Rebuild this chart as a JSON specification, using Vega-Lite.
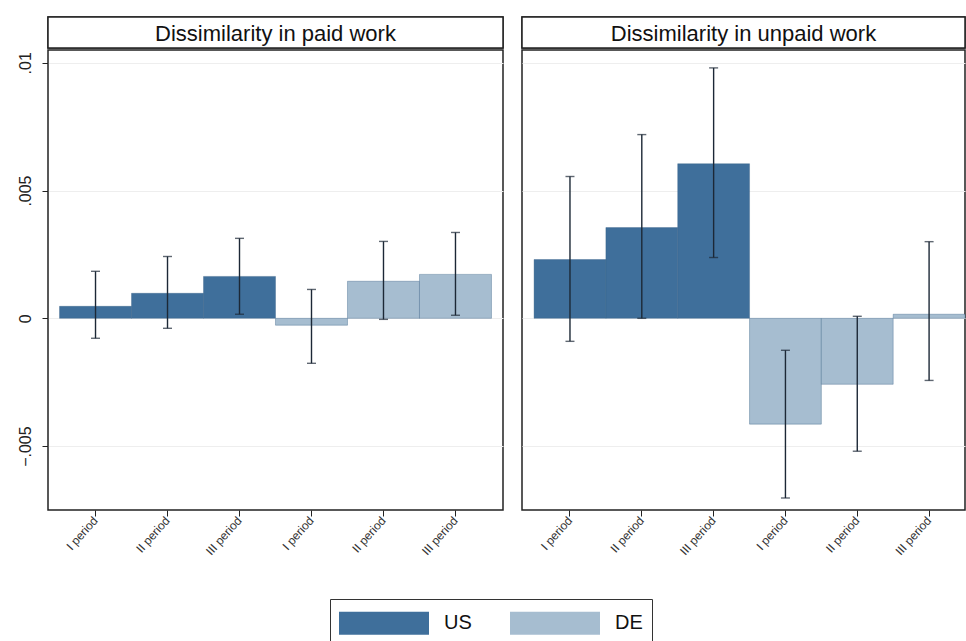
{
  "$schema": "https://vega.github.io/schema/vega-lite/v6.json",
  "background": "white",
  "padding": {"left": 16, "top": 15, "right": 0, "bottom": 0},
  "spacing": 15,
  "config": {
    "font": "Liberation Sans",
    "view": {"stroke": "#222222", "strokeWidth": 1.5},
    "concat": {"spacing": 19}
  },
  "datasets": {
    "bars": [
      {"panel": "paid", "bar": "US|I period", "country": "US", "value": 0.00047, "lo": -0.00078, "hi": 0.00184},
      {"panel": "paid", "bar": "US|II period", "country": "US", "value": 0.00098, "lo": -0.00039, "hi": 0.00242},
      {"panel": "paid", "bar": "US|III period", "country": "US", "value": 0.00164, "lo": 0.00016, "hi": 0.00313},
      {"panel": "paid", "bar": "DE|I period", "country": "DE", "value": -0.00027, "lo": -0.00176, "hi": 0.00113},
      {"panel": "paid", "bar": "DE|II period", "country": "DE", "value": 0.00145, "lo": -0.00004, "hi": 0.00301},
      {"panel": "paid", "bar": "DE|III period", "country": "DE", "value": 0.00172, "lo": 0.00012, "hi": 0.00336},
      {"panel": "unpaid", "bar": "US|I period", "country": "US", "value": 0.0023, "lo": -0.0009, "hi": 0.00555},
      {"panel": "unpaid", "bar": "US|II period", "country": "US", "value": 0.00355, "lo": 0.0, "hi": 0.00719},
      {"panel": "unpaid", "bar": "US|III period", "country": "US", "value": 0.00605, "lo": 0.00238, "hi": 0.0098},
      {"panel": "unpaid", "bar": "DE|I period", "country": "DE", "value": -0.00414, "lo": -0.00703, "hi": -0.00125},
      {"panel": "unpaid", "bar": "DE|II period", "country": "DE", "value": -0.00258, "lo": -0.0052, "hi": 0.00008},
      {"panel": "unpaid", "bar": "DE|III period", "country": "DE", "value": 0.00016, "lo": -0.00243, "hi": 0.003}
    ]
  },
  "resolve": {"scale": {"color": "shared"}, "legend": {"color": "shared"}},
  "hconcat": [
    {
      "spacing": -2,
      "vconcat": [
        {
          "width": 455,
          "height": 31,
          "view": {"stroke": "#222222", "strokeWidth": 1.5},
          "data": {"values": [{"title": "Dissimilarity in paid work"}]},
          "layer": [
            {"mark": {"type": "rect", "fill": "white", "stroke": "#222222", "strokeWidth": 1.5}, "encoding": {}},
            {
              "mark": {"type": "text", "fontSize": 22, "color": "#111111", "dy": 1},
              "encoding": {"text": {"field": "title"}}
            }
          ]
        },
        {
          "width": 455,
          "height": 460,
          "data": {"name": "bars"},
          "transform": [{"filter": "datum.panel == 'paid'"}],
          "encoding": {
            "x": {
              "field": "bar",
              "type": "nominal",
              "sort": ["US|I period", "US|II period", "US|III period", "DE|I period", "DE|II period", "DE|III period"],
              "scale": {"paddingInner": 0, "paddingOuter": 0.16},
              "title": null,
              "axis": {
                "labelExpr": "split(datum.value, '|')[1]",
                "labelAngle": -48,
                "labelFontSize": 12,
                "labelColor": "#333333",
                "tickColor": "#222222",
                "tickSize": 6,
                "domain": false,
                "grid": false
              }
            }
          },
          "layer": [
            {
              "mark": {"type": "bar", "stroke": "#2f5a80", "strokeWidth": 0.6, "strokeOpacity": 0.6},
              "encoding": {
                "y": {
                  "field": "value",
                  "type": "quantitative",
                  "scale": {"domain": [-0.0075, 0.0105], "nice": false},
                  "title": null,
                  "axis": {
                    "values": [-0.005, 0, 0.005, 0.01],
                    "format": ".3~f",
                    "labelExpr": "replace(datum.label, '0.', '.')",
                    "labelAngle": -90,
                    "labelFontSize": 16,
                    "labelPadding": 9,
                    "labelColor": "#222222",
                    "tickColor": "#222222",
                    "tickSize": 6,
                    "domain": false,
                    "gridColor": "#eeeeee"
                  }
                },
                "color": {
                  "field": "country",
                  "type": "nominal",
                  "scale": {"domain": ["US", "DE"], "range": ["#3f6f9b", "#a6bdd0"]},
                  "legend": {
                    "title": null,
                    "orient": "none",
                    "direction": "horizontal",
                    "legendX": 282,
                    "legendY": 582,
                    "columns": 2,
                    "symbolType": "M-1,-0.77H5V0.77H-1Z",
                    "symbolSize": 900,
                    "symbolStrokeWidth": 0,
                    "symbolOpacity": 1,
                    "labelFontSize": 20,
                    "labelColor": "#111111",
                    "labelOffset": 75,
                    "columnPadding": 38,
                    "padding": 9,
                    "strokeColor": "#333333",
                    "fillColor": "white"
                  }
                }
              }
            },
            {
              "mark": {"type": "rule", "color": "#1c2836", "strokeWidth": 1.4},
              "encoding": {"y": {"field": "lo", "type": "quantitative"}, "y2": {"field": "hi"}}
            },
            {
              "mark": {"type": "tick", "color": "#1c2836", "size": 9, "thickness": 1.4},
              "encoding": {"y": {"field": "lo", "type": "quantitative"}}
            },
            {
              "mark": {"type": "tick", "color": "#1c2836", "size": 9, "thickness": 1.4},
              "encoding": {"y": {"field": "hi", "type": "quantitative"}}
            }
          ]
        }
      ]
    },
    {
      "spacing": -2,
      "vconcat": [
        {
          "width": 443,
          "height": 31,
          "view": {"stroke": "#222222", "strokeWidth": 1.5},
          "data": {"values": [{"title": "Dissimilarity in unpaid work"}]},
          "layer": [
            {"mark": {"type": "rect", "fill": "white", "stroke": "#222222", "strokeWidth": 1.5}, "encoding": {}},
            {
              "mark": {"type": "text", "fontSize": 22, "color": "#111111", "dy": 1},
              "encoding": {"text": {"field": "title"}}
            }
          ]
        },
        {
          "width": 443,
          "height": 460,
          "data": {"name": "bars"},
          "transform": [{"filter": "datum.panel == 'unpaid'"}],
          "encoding": {
            "x": {
              "field": "bar",
              "type": "nominal",
              "sort": ["US|I period", "US|II period", "US|III period", "DE|I period", "DE|II period", "DE|III period"],
              "scale": {"paddingInner": 0, "paddingOuter": 0.084, "align": 1},
              "title": null,
              "axis": {
                "labelExpr": "split(datum.value, '|')[1]",
                "labelAngle": -48,
                "labelFontSize": 12,
                "labelColor": "#333333",
                "tickColor": "#222222",
                "tickSize": 6,
                "domain": false,
                "grid": false
              }
            }
          },
          "layer": [
            {
              "mark": {"type": "bar", "stroke": "#2f5a80", "strokeWidth": 0.6, "strokeOpacity": 0.6},
              "encoding": {
                "y": {
                  "field": "value",
                  "type": "quantitative",
                  "scale": {"domain": [-0.0075, 0.0105], "nice": false},
                  "title": null,
                  "axis": {
                    "values": [-0.005, 0, 0.005, 0.01],
                    "labels": false,
                    "ticks": false,
                    "domain": false,
                    "gridColor": "#eeeeee"
                  }
                },
                "color": {"field": "country", "type": "nominal"}
              }
            },
            {
              "mark": {"type": "rule", "color": "#1c2836", "strokeWidth": 1.4},
              "encoding": {"y": {"field": "lo", "type": "quantitative"}, "y2": {"field": "hi"}}
            },
            {
              "mark": {"type": "tick", "color": "#1c2836", "size": 9, "thickness": 1.4},
              "encoding": {"y": {"field": "lo", "type": "quantitative"}}
            },
            {
              "mark": {"type": "tick", "color": "#1c2836", "size": 9, "thickness": 1.4},
              "encoding": {"y": {"field": "hi", "type": "quantitative"}}
            }
          ]
        }
      ]
    }
  ]
}
